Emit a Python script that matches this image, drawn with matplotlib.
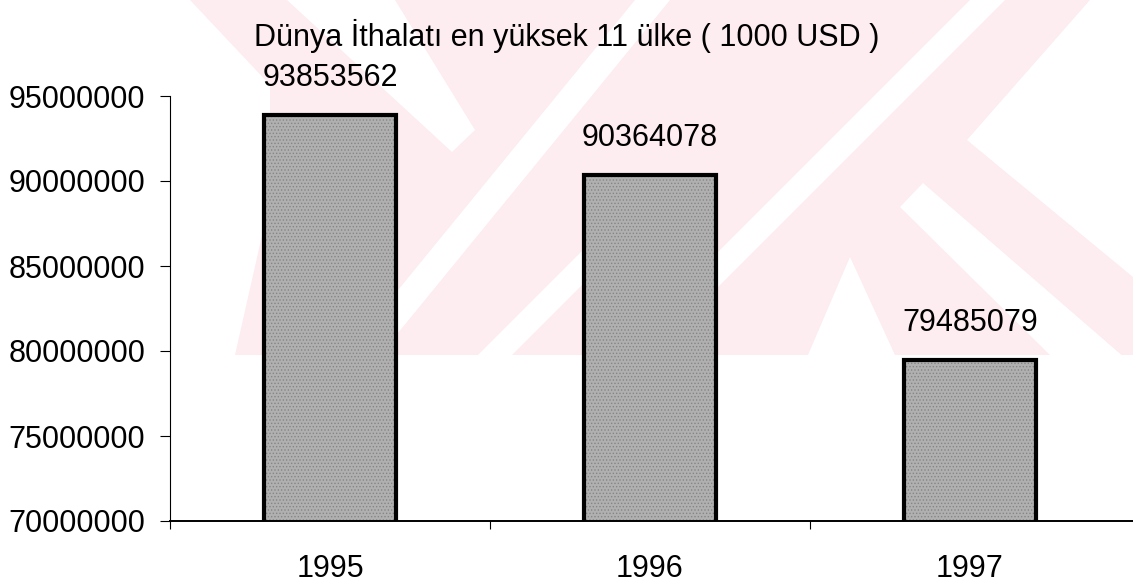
import matplotlib
matplotlib.use("Agg")
import matplotlib.pyplot as plt
from matplotlib.patches import Polygon

# ---- data ----
years = ["1995", "1996", "1997"]
values = [93853562, 90364078, 79485079]
y_ticks = [70000000, 75000000, 80000000, 85000000, 90000000, 95000000]
title = "Dünya İthalatı en yüksek 11 ülke ( 1000 USD )"

plt.rcParams['font.family'] = ['Liberation Sans', 'DejaVu Sans']
plt.rcParams['hatch.linewidth'] = 0.6

W, H = 1133, 587
fig = plt.figure(figsize=(W / 100, H / 100), dpi=100)
fig.patch.set_facecolor('white')

# ---- background watermark (decorative, pixel coordinates) ----
def px(points):
    return [(x / W, 1 - y / H) for x, y in points]

pink = '#fdecf0'
white = 'white'
wm_shapes = [
    (pink, [(190, 0), (1133, 0), (1133, 355), (235, 355), (270, 200), (270, 85)]),
    (white, [(287, 0), (395, 0), (475, 130), (452, 152)]),
    (white, [(345, 355), (380, 355), (670, 0), (635, 0)]),
    (white, [(478, 355), (512, 355), (650, 217), (616, 217)]),
    (white, [(670, 300), (705, 300), (1005, 0), (970, 0)]),
    (white, [(967, 140), (1090, 0), (1133, 0), (1133, 277)]),
    (white, [(900, 207), (923, 183), (1133, 365), (1133, 355), (1050, 355)]),
    (white, [(850, 257), (895, 355), (808, 355)]),
]
for col, pts in wm_shapes:
    fig.patches.append(Polygon(px(pts), closed=True, transform=fig.transFigure,
                               facecolor=col, edgecolor='none', zorder=-10))

# ---- axes ----
ax = fig.add_axes([170 / W, 1 - 521 / H, 963 / W, (521 - 96) / H])
ax.set_facecolor('none')

x = list(range(len(years)))
ax.bar(x, values, width=0.41, color='#b0b0b0', edgecolor='#858585',
       hatch='.....', linewidth=0, zorder=2)
ax.bar(x, values, width=0.41, facecolor='none', edgecolor='black',
       linewidth=3.0, zorder=3)

for xi, v in zip(x, values):
    ax.annotate(f"{v}", xy=(xi, v), xytext=(0, 21), textcoords='offset points',
                ha='center', va='baseline', fontsize=22, color='black')

ax.set_xlim(-0.5, 2.5 + 3 / 320)
ax.set_ylim(70000000, 95000000)
ax.set_yticks(y_ticks)
ax.set_yticklabels([str(t) for t in y_ticks], fontsize=22)
ax.set_xticks(x)
ax.set_xticklabels(years, fontsize=22)
ax.set_xticks([-0.5, 0.5, 1.5], minor=True)

ax.tick_params(axis='x', which='major', length=0, pad=23.5)
ax.tick_params(axis='x', which='minor', length=6, width=0.8, direction='out')
ax.tick_params(axis='y', which='major', length=7, width=0.8, pad=11, direction='out')

for s in ['top', 'right']:
    ax.spines[s].set_visible(False)
ax.spines['left'].set_linewidth(0.8)
ax.spines['bottom'].set_linewidth(1.4)
ax.spines['bottom'].set_zorder(4)

fig.text(0.5, 1 - 46 / H, title, ha='center', va='baseline', fontsize=22)

fig.savefig("out.png", dpi=100, facecolor=fig.get_facecolor())
